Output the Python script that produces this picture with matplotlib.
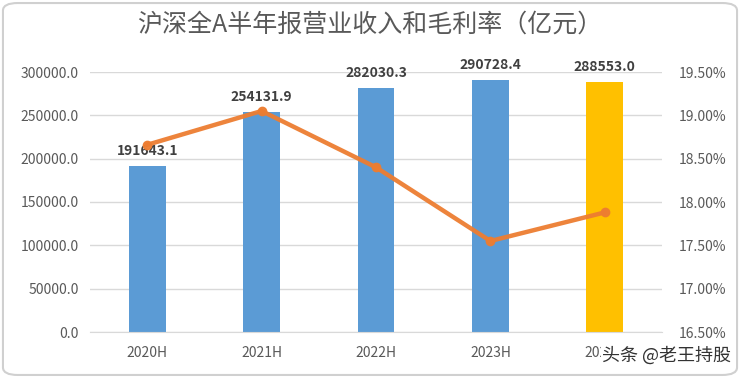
import numpy as np
import matplotlib
matplotlib.use("Agg")
import matplotlib.pyplot as plt
from matplotlib.patches import FancyBboxPatch

plt.rcParams['font.family'] = ['Noto Sans CJK SC', 'DejaVu Sans']

# data
periods = ['2020H', '2021H', '2022H', '2023H', '2024H']
revenue = [191643.1, 254131.9, 282030.3, 290728.4, 288553.0]
margin = [18.66, 19.05, 18.40, 17.55, 17.88]  # gross margin, %
bar_colors = ['#5b9bd5', '#5b9bd5', '#5b9bd5', '#5b9bd5', '#ffc000']

fig = plt.figure(figsize=(7.4, 3.78), dpi=100)
fig.patch.set_facecolor('white')

# rounded card border
card = FancyBboxPatch((0.004, 0.008), 0.992, 0.984, boxstyle="round,pad=0,rounding_size=0.02",
                      transform=fig.transFigure, facecolor='white', edgecolor='#d0d0d0',
                      lw=1.5, zorder=-10)
fig.patches.append(card)

ax = fig.add_axes([90 / 740, 1 - 332 / 378, 572 / 740, 260 / 378])
ax2 = ax.twinx()

x = np.arange(len(periods))
ax.bar(x, revenue, width=0.32, color=bar_colors, zorder=2)
for xi, v in zip(x, revenue):
    ax.text(xi, v + 9000, f'{v:.1f}', ha='center', va='bottom', fontsize=10,
            fontweight='bold', color='#404040', zorder=5)

ax.set_xlim(-0.5, 4.5)
ax.set_ylim(0, 300000)
ax.set_yticks(np.arange(0, 300001, 50000))
ax.set_yticklabels([f'{t:.1f}' for t in np.arange(0, 300001, 50000)])
ax.set_xticks(x)
ax.set_xticklabels(periods)
ax.grid(axis='y', color='#d9d9d9', lw=1, zorder=0)
ax.set_axisbelow(True)

ax2.plot(x, margin, color='#ed7d31', lw=3.2, marker='o', ms=6, zorder=4, alpha=0.95)
ax2.set_ylim(16.5, 19.5)
ax2.set_yticks(np.arange(16.5, 19.51, 0.5))
ax2.set_yticklabels([f'{t:.2f}%' for t in np.arange(16.5, 19.51, 0.5)])

for a in (ax, ax2):
    for s in a.spines.values():
        s.set_visible(False)
    a.tick_params(length=0, labelsize=10, colors='#595959')
ax.spines['bottom'].set_visible(True)
ax.spines['bottom'].set_color('#d9d9d9')
ax.tick_params(axis='x', pad=10)
ax.tick_params(axis='y', pad=8)
ax2.tick_params(axis='y', pad=12)

fig.text(0.5, 1 - 25 / 378, '沪深全A半年报营业收入和毛利率（亿元）', ha='center', va='center',
         fontsize=18, color='#595959')

# watermark of the source site
fig.text(0.988, 1 - 356 / 378, '头条 @老王持股', ha='right', va='center', fontsize=13,
         color='#333333', bbox=dict(facecolor='white', edgecolor='none', pad=1))

fig.savefig('out.png', dpi=100, facecolor='white')
